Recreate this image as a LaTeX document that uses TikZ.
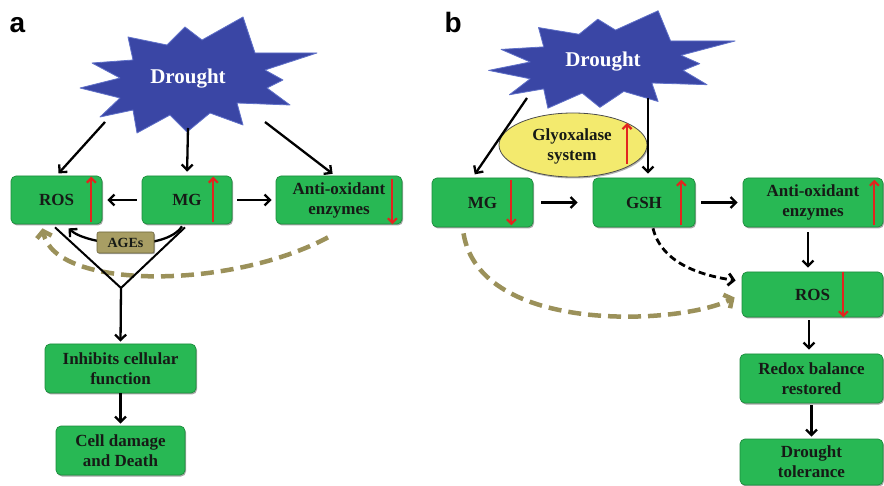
\documentclass[tikz,border=0pt]{standalone}
\usepackage{fontspec}
\setmainfont{Liberation Serif}
\newfontfamily\labelfont{Liberation Sans}
\usetikzlibrary{arrows.meta,shapes.geometric,shadows,calc}
\definecolor{boxgreen}{RGB}{40,184,84}
\definecolor{boxedge}{RGB}{28,140,60}
\definecolor{boxtext}{RGB}{22,26,22}
\definecolor{starblue}{RGB}{58,70,165}
\definecolor{staredge}{RGB}{95,112,200}
\definecolor{khaki}{RGB}{155,145,90}
\definecolor{agesfill}{RGB}{168,158,100}
\definecolor{agesedge}{RGB}{110,102,60}
\definecolor{arrred}{RGB}{226,36,30}
\definecolor{glyfill}{RGB}{243,234,110}
\begin{document}
\begin{tikzpicture}[x=1pt,y=-1pt,
  box/.style={draw=boxedge, line width=0.7pt, fill=boxgreen, rounded corners=5pt,
    inner sep=0pt, align=center, text=boxtext,
    font=\fontsize{17}{20}\selectfont\bfseries,
    drop shadow={shadow xshift=1pt, shadow yshift=-1.5pt, opacity=0.35, fill=black}},
  arr/.style={line width=2.3pt, -{Straight Barb[length=5.5pt,width=11pt]}},
  vline/.style={line width=2pt},
  redarr/.style={draw=arrred, line width=2.2pt, -{Straight Barb[length=4.5pt,width=9pt]}},
  khakiarr/.style={draw=khaki, line width=4.5pt, dash pattern=on 13pt off 7pt,
    -{Straight Barb[length=6pt,width=15pt]}},
  blackdash/.style={line width=2.8pt, dash pattern=on 7pt off 4pt,
    -{Straight Barb[length=5.5pt,width=12pt]}},
  droughtstar/.pic={
    \filldraw[fill=starblue, draw=staredge, line width=0.8pt, line join=round]
      (-110,10) -- (-70,0) -- (-98,-15) -- (-57,-18) -- (-62,-41) -- (-23,-33)
      -- (-5,-51) -- (12,-38) -- (53,-61) -- (65,-25) -- (127,-25) -- (75,-8)
      -- (93,2) -- (77,10) -- (100,27) -- (47,25) -- (53,47) -- (20,35)
      -- (-3,54) -- (-20,37) -- (-53,55) -- (-57,32) -- (-90,39) -- (-70,20) -- cycle;
  },
  drtext/.style={text=white, font=\fontsize{21}{24}\selectfont\bfseries},
  panel/.style={anchor=base west, font=\labelfont\bfseries\fontsize{28}{28}\selectfont}
]
\useasboundingbox (0,0) rectangle (884,486);

% ---------------- panel a ----------------
\node[panel] (la) at (6,33) {a};
\pic at (190,78) {droughtstar};
\node[drtext] (d1) at (188,79) {Drought};
\coordinate (d1a) at (105,122);
\coordinate (d1b) at (188,128);
\coordinate (d1c) at (265,122);

\node[box, minimum width=91pt, minimum height=48pt] (ros1) at (56.5,200) {ROS};
\node[box, minimum width=90pt, minimum height=48pt] (mg1) at (187,200) {MG};
\node[box, minimum width=126pt, minimum height=48pt] (anti1) at (339,200) {Anti-oxidant\\enzymes};
\node[box, minimum width=151pt, minimum height=49pt] (inh) at (120.5,368.5) {Inhibits cellular\\function};
\node[box, minimum width=129pt, minimum height=49pt] (cell) at (120.5,450.5) {Cell damage\\and Death};

\draw[redarr] ($(ros1.south east)+(-11,-2)$) -- ($(ros1.north east)+(-11,1)$);
\draw[redarr] ($(mg1.south east)+(-19,-2)$) -- ($(mg1.north east)+(-19,1)$);
\draw[redarr] ($(anti1.north east)+(-10,3)$) -- ($(anti1.south east)+(-10,0)$);

\draw[arr, shorten >=3pt] (d1a) -- (ros1.north);
\draw[arr, shorten >=4pt] (d1b) -- (mg1.north);
\draw[arr, shorten >=3pt] (d1c) -- ($(anti1.north)+(-4,0)$);
\draw[arr, shorten <=5pt, shorten >=5pt] (mg1.west) -- (ros1.east);
\draw[arr, shorten <=5pt, shorten >=4pt] (mg1.east) -- (anti1.west);

\draw[khakiarr] ($(anti1.south)+(-11,13)$) .. controls (230,290) and (55,290) .. ($(ros1.south)+(-14,4)$);

\draw[arr] ($(mg1.south)+(-5,2)$) .. controls (165,252) and (88,246) .. ($(ros1.south)+(12,4)$);
\node[draw=agesedge, line width=0.6pt, fill=agesfill, rounded corners=2pt, inner sep=0pt,
  minimum width=57pt, minimum height=21pt, text=boxtext,
  font=\fontsize{14}{16}\selectfont\bfseries,
  drop shadow={shadow xshift=1pt, shadow yshift=-1.2pt, opacity=0.35, fill=black}] (ages) at (125.5,242.5) {AGEs};

\coordinate (vtx) at (121,288);
\draw[vline] ($(ros1.south)+(-1.5,3)$) -- (vtx) -- ($(mg1.south)+(-2,3)$);
\draw[arr, shorten >=2pt] (vtx) -- (inh.north);
\draw[arr, shorten >=2pt] (inh.south) -- (cell.north);

% ---------------- panel b ----------------
\node[panel] (lb) at (441,33) {b};
\pic[xscale=1.04, yscale=0.84] at (603,62) {droughtstar};
\node[drtext] (d2) at (603,62) {Drought};
\coordinate (d2a) at (527,98);
\coordinate (d2b) at (648,98);

\node[draw=black!70, line width=0.8pt, fill=glyfill, ellipse, inner sep=0pt,
  minimum width=148pt, minimum height=64pt,
  drop shadow={shadow xshift=1pt, shadow yshift=-1.5pt, opacity=0.3, fill=black}] (gly) at (573,145) {};
\node[align=center, text=boxtext, font=\fontsize{17}{20}\selectfont\bfseries] (glyt) at (572,146) {Glyoxalase\\system};
\draw[redarr] ($(gly.center)+(54,19)$) -- ($(gly.center)+(54,-22)$);

\node[box, minimum width=101pt, minimum height=49pt] (mg2) at (482.5,202.5) {MG};
\node[box, minimum width=102pt, minimum height=49pt] (gsh) at (644,202.5) {GSH};
\node[box, minimum width=140pt, minimum height=49pt] (anti2) at (813,202.5) {Anti-oxidant\\enzymes};
\node[box, minimum width=141pt, minimum height=45pt] (ros2) at (812.5,294.5) {ROS};
\node[box, minimum width=143pt, minimum height=49pt] (redox) at (811.5,378.5) {Redox balance\\restored};
\node[box, minimum width=143pt, minimum height=46pt] (tol) at (811.5,462) {Drought\\tolerance};

\draw[redarr] ($(mg2.north east)+(-22,2)$) -- ($(mg2.south east)+(-22,-2)$);
\draw[redarr] ($(gsh.south east)+(-14,-2)$) -- ($(gsh.north east)+(-14,2)$);
\draw[redarr] ($(anti2.south east)+(-9,-2)$) -- ($(anti2.north east)+(-9,2)$);
\draw[redarr] ($(ros2.north east)+(-40,0)$) -- ($(ros2.south east)+(-40,0)$);

\draw[arr, shorten >=4pt] (d2a) -- ($(mg2.north)+(-10,0)$);
\draw[arr, shorten >=4pt] (d2b) -- ($(gsh.north)+(4,0)$);
\draw[arr, shorten <=8pt, shorten >=15pt] (mg2.east) -- (gsh.west);
\draw[arr, shorten <=6pt, shorten >=5pt] (gsh.east) -- (anti2.west);
\draw[arr, shorten <=5pt, shorten >=4pt] ($(anti2.south)+(-5,0)$) -- ($(ros2.north)+(-4.5,0)$);
\draw[arr, shorten <=3pt, shorten >=4pt] ($(ros2.south)+(-3.5,0)$) -- ($(redox.north)+(-2.5,0)$);
\draw[arr, shorten <=2pt, shorten >=2pt] (redox.south) -- (tol.north);

\draw[blackdash] ($(gsh.south)+(9,1)$) .. controls (662,265) and (705,276) .. ($(ros2.west)+(-6,-14)$);
\draw[khakiarr] ($(mg2.south)+(-19,6)$) .. controls (480,335) and (680,325) .. ($(ros2.west)+(-7,3)$);
\end{tikzpicture}
\end{document}
